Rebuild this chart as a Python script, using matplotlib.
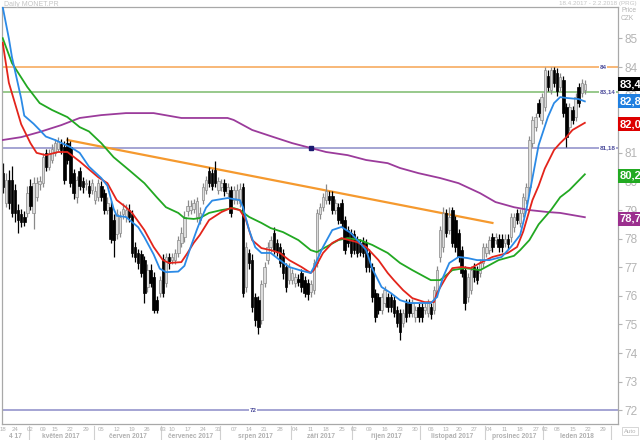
import matplotlib
matplotlib.use('Agg')
import matplotlib.pyplot as plt
import numpy as np
import pandas as pd

plt.rcParams['font.family'] = ['Liberation Sans', 'DejaVu Sans']

# daily candles of MONET.PR, one per trading day from 18.4.2017
opens = [80.30, 79.25, 80.05, 80.05, 79.70, 79.00, 78.85, 78.75, 78.90, 79.85,
         78.90, 79.45, 79.90, 79.95, 81.00, 80.50, 80.75, 81.00, 81.15, 81.30,
         81.20, 81.35, 81.20, 80.30, 79.45, 80.35, 80.00, 79.90, 79.85, 79.70,
         79.35, 79.45, 79.85, 79.60, 79.00, 79.10, 78.65, 78.15, 78.20, 78.85,
         78.75, 79.00, 78.85, 77.70, 77.50, 77.45, 77.25, 76.30, 76.90, 76.65,
         75.85, 76.10, 77.30, 76.45, 77.35, 77.25, 77.25, 77.50, 77.85, 78.05,
         78.95, 79.00, 79.05, 78.75, 78.65, 79.35, 79.70, 80.35, 80.30, 80.40,
         79.70, 79.80, 79.95, 79.60, 79.70, 79.35, 79.35, 79.25, 79.80, 76.30,
         77.50, 77.25, 75.95, 75.85, 75.15, 76.45, 77.25, 77.70, 78.20, 77.85,
         77.70, 77.50, 77.00, 76.55, 76.55, 76.45, 76.60, 76.80, 76.55, 76.45,
         76.15, 76.20, 77.15, 78.85, 79.10, 79.35, 79.50, 79.50, 79.00, 79.10,
         79.25, 78.65, 78.30, 78.20, 78.15, 77.95, 77.85, 77.90, 77.85, 77.50,
         77.00, 76.10, 75.95, 75.50, 75.75, 75.95, 75.95, 75.85, 75.50, 75.40,
         75.05, 75.75, 75.75, 75.40, 75.25, 75.60, 75.60, 75.50, 75.40, 75.60,
         75.50, 76.10, 77.35, 77.70, 78.90, 78.30, 79.00, 78.65, 78.20, 77.60,
         76.90, 75.95, 76.20, 77.00, 76.90, 76.80, 77.15, 77.50, 77.60, 78.05,
         77.95, 78.00, 78.00, 77.85, 78.00, 78.05, 78.40, 78.90, 78.55, 78.90,
         79.35, 79.80, 81.35, 81.90, 82.75, 82.15, 82.60, 83.70, 83.20, 83.90,
         83.80, 83.30, 83.55, 82.60, 81.90, 82.50, 82.25, 83.30, 83.10, 83.20]
closes = [79.80, 80.05, 79.25, 78.90, 78.90, 78.65, 78.60, 78.60, 79.60, 79.15,
          79.95, 79.95, 80.00, 80.85, 80.50, 81.00, 81.15, 81.35, 81.40, 81.10,
          80.05, 80.75, 79.95, 79.60, 80.05, 79.85, 79.80, 79.95, 79.60, 79.95,
          79.65, 79.95, 79.45, 79.00, 79.25, 78.00, 77.95, 78.85, 78.75, 79.05,
          79.00, 78.75, 77.50, 77.35, 77.15, 76.80, 76.10, 76.90, 76.45, 75.50,
          75.50, 76.55, 76.10, 77.35, 77.15, 77.35, 77.50, 77.95, 78.20, 78.75,
          79.15, 79.15, 79.25, 79.30, 78.90, 79.80, 80.05, 79.95, 79.85, 79.95,
          80.00, 79.95, 79.65, 79.80, 78.90, 79.70, 79.70, 79.75, 76.10, 77.70,
          77.15, 75.60, 75.15, 74.90, 76.40, 77.00, 77.70, 77.95, 77.60, 77.55,
          77.15, 76.80, 76.30, 77.00, 76.80, 76.65, 76.50, 76.30, 76.10, 76.05,
          76.40, 77.15, 78.90, 79.10, 79.45, 79.65, 79.35, 79.00, 79.25, 78.65,
          78.55, 77.60, 77.85, 77.50, 77.60, 77.50, 77.55, 77.50, 77.00, 77.00,
          75.95, 75.25, 75.50, 75.95, 76.20, 75.60, 75.60, 75.40, 75.05, 74.75,
          75.40, 75.25, 75.40, 75.75, 75.50, 75.25, 75.25, 75.60, 75.75, 75.35,
          76.20, 76.90, 78.30, 78.90, 78.20, 78.75, 77.85, 77.70, 77.35, 76.80,
          75.75, 76.65, 76.90, 76.65, 76.55, 77.15, 77.70, 77.70, 77.95, 77.70,
          78.05, 77.70, 77.70, 78.00, 77.80, 78.75, 78.75, 78.65, 78.90, 79.45,
          79.80, 81.45, 82.15, 82.25, 82.40, 82.95, 83.90, 83.30, 83.90, 83.45,
          83.15, 83.65, 82.40, 81.55, 82.60, 82.15, 82.95, 82.75, 83.45, 83.40]
highs = [80.65, 80.30, 80.40, 80.55, 79.90, 79.20, 79.05, 78.95, 79.85, 80.10,
         80.15, 80.15, 80.20, 81.00, 81.15, 81.15, 81.30, 81.50, 81.55, 81.50,
         81.40, 81.55, 81.40, 80.45, 80.20, 80.50, 80.15, 80.10, 80.05, 80.10,
         79.85, 80.10, 80.00, 79.75, 79.45, 79.30, 78.85, 79.05, 78.95, 79.25,
         79.20, 79.20, 79.00, 77.90, 77.65, 77.60, 77.40, 77.10, 77.10, 76.85,
         76.00, 76.70, 77.45, 77.50, 77.50, 77.50, 77.65, 78.10, 78.40, 78.95,
         79.35, 79.35, 79.40, 79.45, 79.10, 79.95, 80.20, 80.50, 80.45, 80.70,
         80.15, 80.10, 80.10, 79.95, 79.85, 79.85, 79.90, 79.95, 79.95, 77.90,
         77.65, 77.45, 76.10, 76.00, 76.55, 77.20, 77.90, 78.10, 78.40, 78.00,
         77.85, 77.65, 77.15, 77.15, 76.95, 76.80, 76.75, 76.95, 76.70, 76.60,
         76.55, 77.30, 79.05, 79.25, 79.60, 79.90, 79.65, 79.65, 79.40, 79.25,
         79.40, 78.80, 78.45, 78.35, 78.30, 78.10, 78.00, 78.05, 78.00, 77.65,
         77.15, 76.25, 76.10, 76.10, 76.35, 76.10, 76.10, 76.00, 75.65, 75.55,
         75.55, 75.90, 75.90, 75.90, 75.65, 75.75, 75.75, 75.75, 75.90, 75.75,
         76.35, 77.05, 78.45, 79.10, 79.05, 79.10, 79.10, 78.80, 78.35, 77.75,
         77.05, 76.80, 77.05, 77.15, 77.05, 77.30, 77.85, 77.85, 78.10, 78.20,
         78.20, 78.15, 78.15, 78.15, 78.15, 78.90, 78.90, 79.05, 79.05, 79.60,
         79.95, 81.60, 82.30, 82.40, 82.90, 83.10, 84.00, 83.90, 84.00, 84.00,
         83.95, 83.80, 83.70, 82.75, 82.75, 82.65, 83.10, 83.45, 83.60, 83.55]
lows = [79.60, 79.10, 79.05, 78.75, 78.60, 78.20, 78.40, 78.45, 78.75, 79.00,
        78.35, 79.30, 79.70, 79.80, 80.35, 80.40, 80.65, 80.90, 81.05, 80.95,
        79.90, 80.60, 79.80, 79.40, 79.25, 79.70, 79.60, 79.70, 79.45, 79.55,
        79.20, 79.30, 79.30, 78.85, 78.85, 77.85, 77.35, 78.00, 78.05, 78.70,
        78.60, 78.60, 77.35, 77.20, 76.95, 76.65, 75.75, 76.15, 76.30, 75.40,
        75.40, 75.95, 75.95, 76.30, 76.95, 77.10, 77.10, 77.35, 77.70, 77.90,
        78.80, 78.85, 78.90, 78.60, 78.50, 79.20, 79.55, 79.80, 79.70, 79.80,
        79.55, 79.65, 79.50, 79.45, 78.75, 79.20, 79.20, 79.10, 75.95, 76.15,
        76.95, 75.45, 74.95, 74.65, 75.00, 76.30, 77.10, 77.55, 77.45, 77.40,
        77.00, 76.60, 76.15, 76.40, 76.40, 76.30, 76.35, 76.15, 75.95, 75.85,
        75.95, 76.05, 77.00, 78.70, 78.95, 79.20, 79.20, 78.85, 78.85, 78.50,
        78.40, 77.45, 77.70, 77.35, 77.45, 77.35, 77.40, 77.35, 76.85, 76.85,
        75.80, 75.10, 75.35, 75.35, 75.60, 75.45, 75.45, 75.25, 74.90, 74.45,
        74.90, 75.10, 75.25, 75.25, 75.10, 75.10, 75.10, 75.35, 75.25, 75.20,
        75.35, 75.95, 77.20, 77.55, 78.05, 78.15, 77.70, 77.55, 77.20, 76.65,
        75.50, 75.80, 76.05, 76.50, 76.40, 76.65, 77.00, 77.35, 77.45, 77.55,
        77.80, 77.55, 77.55, 77.70, 77.65, 77.90, 78.25, 78.50, 78.40, 78.75,
        79.20, 79.65, 81.20, 81.75, 82.25, 82.00, 82.45, 83.15, 83.05, 83.30,
        83.00, 83.15, 82.25, 81.20, 81.75, 82.00, 82.10, 82.60, 82.95, 83.05]

# moving averages (trading-day index, price)
ma_blue_idx = [0, 2, 3, 6, 7, 10, 12, 14, 17, 19, 22, 25, 28, 32, 34, 35, 36, 37, 40, 44,
               46, 49, 51, 53, 57, 59, 61, 63, 64, 66, 68, 73, 77, 78, 80, 82, 84, 87, 90, 93,
               97, 100, 101, 104, 107, 110, 113, 116, 118, 120, 123, 126, 129, 132, 139, 141, 143, 145, 148, 151,
               154, 158, 162, 165, 168, 170, 172, 174, 177, 179, 181, 183, 187, 189]
ma_blue = [86.10, 85.00, 84.35, 82.90, 82.30, 82.02, 81.80, 81.57, 81.45, 81.35, 81.20, 81.00, 80.52, 80.12, 79.85, 79.45, 79.05, 78.80, 78.76, 78.40,
           78.05, 77.45, 76.95, 76.83, 76.85, 77.05, 77.70, 78.30, 78.58, 79.08, 79.33, 79.42, 79.35, 79.10, 78.30, 77.70, 77.50, 77.50, 77.25, 77.01,
           76.88, 76.80, 77.00, 77.71, 78.30, 78.41, 78.20, 77.85, 77.60, 76.95, 76.31, 76.10, 75.85, 75.75, 75.75, 75.96, 76.66, 77.15, 77.36, 77.32,
           77.25, 77.25, 77.36, 77.71, 78.13, 79.00, 80.12, 81.27, 82.25, 82.74, 82.95, 82.92, 82.88, 82.80]
ma_red_idx = [0, 2, 6, 9, 11, 14, 18, 21, 25, 31, 34, 37, 40, 42, 46, 49, 52, 54, 58, 60,
              62, 64, 67, 71, 74, 77, 79, 81, 84, 87, 90, 93, 97, 100, 101, 104, 107, 110, 115, 118,
              122, 125, 127, 130, 133, 137, 140, 141, 144, 146, 149, 152, 155, 159, 164, 167, 169, 172, 174, 176,
              179, 181, 183, 185, 189]
ma_red = [84.85, 83.45, 82.00, 81.34, 81.00, 80.92, 81.03, 81.03, 80.70, 80.15, 79.94, 79.35, 79.10, 78.90, 78.30, 77.71, 77.25, 77.15, 77.18, 77.50,
          77.85, 78.13, 78.65, 78.93, 79.07, 79.00, 78.65, 77.95, 77.67, 77.60, 77.50, 77.25, 77.01, 76.80, 76.90, 77.50, 77.85, 78.02, 77.88, 77.71,
          77.25, 76.80, 76.55, 76.20, 75.92, 75.78, 75.78, 76.10, 76.66, 76.97, 77.01, 76.97, 77.15, 77.36, 77.50, 77.71, 78.25, 79.35, 79.85, 80.45,
          81.10, 81.34, 81.55, 81.80, 82.05]
ma_green_idx = [0, 3, 8, 12, 16, 21, 25, 28, 32, 36, 41, 46, 50, 53, 57, 59, 62, 64, 67, 71,
                75, 77, 80, 84, 87, 91, 96, 100, 102, 105, 109, 112, 116, 120, 125, 129, 133, 139, 142, 146,
                150, 155, 161, 166, 168, 171, 174, 178, 181, 184, 189]
ma_green = [85.01, 84.14, 83.30, 82.74, 82.50, 82.25, 81.90, 81.75, 81.34, 80.85, 80.40, 79.94, 79.45, 79.10, 78.90, 78.72, 78.69, 78.72, 78.90, 79.00,
            79.07, 79.00, 78.76, 78.55, 78.37, 78.23, 77.95, 77.60, 77.53, 77.71, 77.95, 78.02, 77.95, 77.78, 77.50, 77.15, 76.90, 76.55, 76.55, 76.90,
            76.97, 76.90, 77.25, 77.40, 77.60, 77.95, 78.50, 79.00, 79.45, 79.70, 80.25]
ma_purple_idx = [0, 6, 12, 19, 25, 32, 40, 49, 58, 66, 73, 75, 81, 88, 94, 100, 105, 112, 118, 125,
                 129, 135, 142, 148, 155, 160, 166, 171, 177, 181, 189]
ma_purple = [81.45, 81.55, 81.73, 81.97, 82.22, 82.32, 82.39, 82.39, 82.22, 82.22, 82.22, 82.15, 81.80, 81.55, 81.34, 81.17, 81.03, 80.92, 80.75, 80.64,
             80.47, 80.29, 80.12, 79.94, 79.59, 79.28, 79.10, 79.00, 78.93, 78.90, 78.75]

# horizontal levels and trend line
levels = [84.0, 83.14, 81.18, 72.0]
level_labels = ['84', '83,14', '81,18', '72']
level_colors = ['#f6a452', '#7cba6c', '#8c8cc8', '#8c8cc8']
trend_idx = [21, 159]
trend_val = [81.45, 78.55]

# last values shown in the right-hand tags
tag_values = [83.4, 82.8, 82.0, 80.2, 78.7]
tag_labels = ['83,4', '82,8', '82,0', '80,2', '78,7']
tag_colors = ['#000000', '#1f7fe0', '#dd0000', '#22aa22', '#9b2f8e']

holidays = ['2017-05-01', '2017-05-08', '2017-07-05', '2017-07-06', '2017-09-28',
            '2017-11-17', '2017-12-25', '2017-12-26', '2018-01-01']
month_names = {4: 'duben', 5: 'květen', 6: 'červen', 7: 'červenec', 8: 'srpen', 9: 'září',
               10: 'říjen', 11: 'listopad', 12: 'prosinec', 1: 'leden', 2: 'únor'}

days = pd.bdate_range('2017-04-18', '2018-02-28')
days = days[~days.isin(pd.to_datetime(holidays))][:200]

fig = plt.figure(figsize=(6.4, 4.4), dpi=100)
ax = fig.add_axes([2 / 640, 16 / 440, 616 / 640, 417 / 440])
ax.set_xlim(-0.23, 199.77)
ax.set_ylim(71.52, 86.10)

# levels
for lv, col in zip(levels, level_colors):
    ax.axhline(lv, color=col, lw=1.1, zorder=1.5)
ax.plot(trend_idx, trend_val, color='#f5992e', lw=1.6, zorder=1.6)

# candles
x = np.arange(len(closes))
o = np.array(opens); c = np.array(closes)
h = np.array(highs); l = np.array(lows)
up = c >= o
ax.vlines(x[up], l[up], h[up], color='#8a8a8a', lw=0.9, zorder=2)
ax.vlines(x[~up], l[~up], h[~up], color='black', lw=0.9, zorder=2)
body = np.maximum(np.abs(c - o), 0.03)
ax.bar(x[up], body[up], bottom=np.minimum(o, c)[up], width=0.8,
       color='#dcdcdc', edgecolor='#8a8a8a', linewidth=0.5, zorder=2.1)
ax.bar(x[~up], body[~up], bottom=np.minimum(o, c)[~up], width=0.8,
       color='black', edgecolor='black', linewidth=0.5, zorder=2.1)

# moving averages
ax.plot(ma_purple_idx, ma_purple, color='#9b3b9b', lw=1.3, zorder=3)
ax.plot(ma_green_idx, ma_green, color='#22a822', lw=1.3, zorder=3)
ax.plot(ma_red_idx, ma_red, color='#e3241b', lw=1.3, zorder=3)
ax.plot(ma_blue_idx, ma_blue, color='#2b8ae6', lw=1.3, zorder=3)
ax.plot([100], [81.18], marker='s', ms=2.5, color='#1a1a70', zorder=4)

# level labels
for lv, lab in zip(levels[:3], level_labels[:3]):
    ax.text(193.8, lv, lab, fontsize=4.5, color='#4a4a9a', ha='left', va='center',
            fontweight='bold', zorder=5, bbox=dict(fc='white', ec='none', pad=0.5))
ax.text(81.3, levels[3], level_labels[3], fontsize=4.5, color='#4a4a9a', ha='center', va='center',
        fontweight='bold', zorder=5, bbox=dict(fc='white', ec='none', pad=0.5))

# axes styling
for sp in ax.spines.values():
    sp.set_color('#a8a8a8')
    sp.set_linewidth(0.9)
ax.yaxis.tick_right()
ax.set_yticks(range(72, 86))
ax.set_yticklabels([str(v) for v in range(72, 86)])
ax.tick_params(axis='y', colors='#b4b4b4', labelsize=8.5, length=3, width=0.8, pad=1.5)
ax.set_xticks([])

# right-hand value tags
for v, lab, col in zip(tag_values, tag_labels, tag_colors):
    ax.text(1.003, v, lab, transform=ax.get_yaxis_transform(), ha='left', va='center',
            color='white', fontsize=8, fontweight='bold', zorder=10, clip_on=False,
            bbox=dict(boxstyle='square,pad=0.18', fc=col, ec='none'))

# date axis: first trading day of each week, month names below
xt = ax.get_xaxis_transform()
prev_week = None
for i, d in enumerate(days):
    wk = d.isocalendar()[1]
    if wk != prev_week:
        ax.text(i, -0.013, d.strftime('%d'), transform=xt, ha='center', va='center',
                fontsize=4.3, color='#b0b0b0', clip_on=False)
    prev_week = wk

months = pd.Series(np.arange(len(days)), index=days)
for (yr, mo), grp in months.groupby([days.year, days.month]):
    first, last = grp.iloc[0], grp.iloc[-1]
    if first > 0:
        ax.plot([first - 0.5, first - 0.5], [-0.004, -0.045], transform=xt,
                color='#d0d0d0', lw=0.8, clip_on=False)
    if len(grp) < 5:
        continue
    name = '4 17' if mo == 4 else '%s %d' % (month_names[mo], yr)
    ax.text((first + last) / 2, -0.03, name, transform=xt, ha='center', va='center',
            fontsize=4.8, color='#b0b0b0', fontweight='bold', clip_on=False)

# header texts
fig.text(4 / 640, 1 - 4.5 / 440, 'Daily MONET.PR', fontsize=5, color='#c4c4c4', va='center')
fig.text(637 / 640, 1 - 3.5 / 440, '18.4.2017 - 2.2.2018 (PRG)', fontsize=4.5,
         color='#c4c4c4', va='center', ha='right')
fig.text(621 / 640, 1 - 11 / 440, 'Price', fontsize=4.8, color='#b4b4b4', va='center')
fig.text(621 / 640, 1 - 19 / 440, 'CZK', fontsize=4.8, color='#b4b4b4', va='center')
fig.text(630 / 640, 1 - 431 / 440, 'Auto', fontsize=4.3, color='#b4b4b4', va='center', ha='center',
         bbox=dict(fc='white', ec='#d0d0d0', lw=0.6, pad=1))

fig.savefig('out.png', dpi=100)
